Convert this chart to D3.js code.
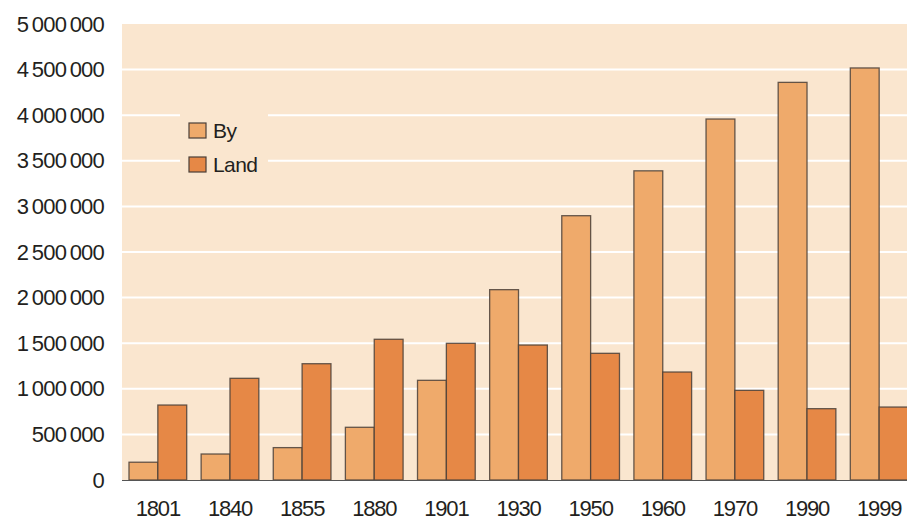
<!DOCTYPE html>
<html><head><meta charset="utf-8">
<script src="https://cdn.jsdelivr.net/npm/d3@7"></script>
<style>
body{margin:0;background:#fff;}
text{font-family:"Liberation Sans",Arial,sans-serif;fill:#231f20;}
</style></head>
<body><svg id="c" width="907" height="520"></svg>
<script>
const years = ["1801","1840","1855","1880","1901","1930","1950","1960","1970","1990","1999"];
const byValues = [195000,285000,355000,578000,1093000,2087000,2898000,3390000,3958000,4360000,4518000];
const landValues = [822000,1115000,1275000,1543000,1499000,1480000,1389000,1184000,983000,782000,800000];
const seriesNames = ["By","Land"];
const yTicks = [0,500000,1000000,1500000,2000000,2500000,3000000,3500000,4000000,4500000,5000000];

const colors = {By:"#efaa6b", Land:"#e68846"};
const svg = d3.select("#c");
const pLeft = 122, pRight = 915, pTop = 24, pBottom = 480;

const x = d3.scaleBand().domain(years).range([pLeft, pRight]).paddingInner(0.2).paddingOuter(0.097);
const x1 = d3.scaleBand().domain(seriesNames).range([0, x.bandwidth()]);
const y = d3.scaleLinear().domain([0, 5000000]).range([pBottom, pTop]);

svg.append("rect").attr("x", pLeft).attr("y", pTop).attr("width", 907-pLeft).attr("height", pBottom-pTop).attr("fill", "#fae6cf");

// gridlines
svg.append("g").selectAll("line").data(yTicks.filter(d => d > 0 && d < 5000000)).join("line")
  .attr("x1", pLeft).attr("x2", 907).attr("y1", d => y(d)).attr("y2", d => y(d))
  .attr("stroke", "#ffffff").attr("stroke-width", 2);

// legend background interrupts gridlines
svg.append("rect").attr("x", 180).attr("y", 105).attr("width", 88).attr("height", 80).attr("fill", "#fae6cf");

const fmt = d => d3.format(",")(d).replace(/,/g, "\u2009");

// y axis labels
const yAxis = d3.axisLeft(y).tickValues(yTicks).tickSize(0).tickPadding(0).tickFormat(fmt);
const ya = svg.append("g").attr("transform", `translate(${pLeft-18},0)`).call(yAxis);
ya.select(".domain").remove();
ya.selectAll("text").attr("font-size", 22).attr("letter-spacing", -0.8).attr("fill", "#231f20")
  .style("font-family", '"Liberation Sans",Arial,sans-serif');

// bars
const data = years.map((yr, i) => ({year: yr, vals: [{k:"By", v: byValues[i]}, {k:"Land", v: landValues[i]}]}));
const g = svg.append("g").selectAll("g").data(data).join("g").attr("transform", d => `translate(${x(d.year)},0)`);
g.selectAll("rect").data(d => d.vals).join("rect")
  .attr("x", d => x1(d.k)).attr("width", x1.bandwidth())
  .attr("y", d => y(d.v)).attr("height", d => y(0) - y(d.v))
  .attr("fill", d => colors[d.k]).attr("stroke", "#4a3f38").attr("stroke-width", 1.3).attr("stroke-opacity", 0.85);

// baseline
svg.append("line").attr("x1", pLeft).attr("x2", 907).attr("y1", pBottom+0.5).attr("y2", pBottom+0.5).attr("stroke", "#555").attr("stroke-width", 1);

// x axis labels
const xAxis = d3.axisBottom(x).tickSize(0).tickPadding(0);
const xa = svg.append("g").attr("transform", `translate(0,${pBottom})`).call(xAxis);
xa.select(".domain").remove();
xa.selectAll("text").attr("font-size", 22).attr("letter-spacing", -1.2).attr("dy", null).attr("y", 36).attr("fill", "#231f20")
  .style("font-family", '"Liberation Sans",Arial,sans-serif');

// legend
const lg = svg.append("g").selectAll("g").data(seriesNames).join("g").attr("transform", (d, i) => `translate(189,${123 + i*34})`);
lg.append("rect").attr("width", 17).attr("height", 15).attr("fill", d => colors[d]).attr("stroke", "#4a3f38").attr("stroke-width", 1.2);
lg.append("text").attr("x", 24).attr("y", 15).attr("font-size", 21).attr("letter-spacing", -0.6).text(d => d);
</script></body></html>
